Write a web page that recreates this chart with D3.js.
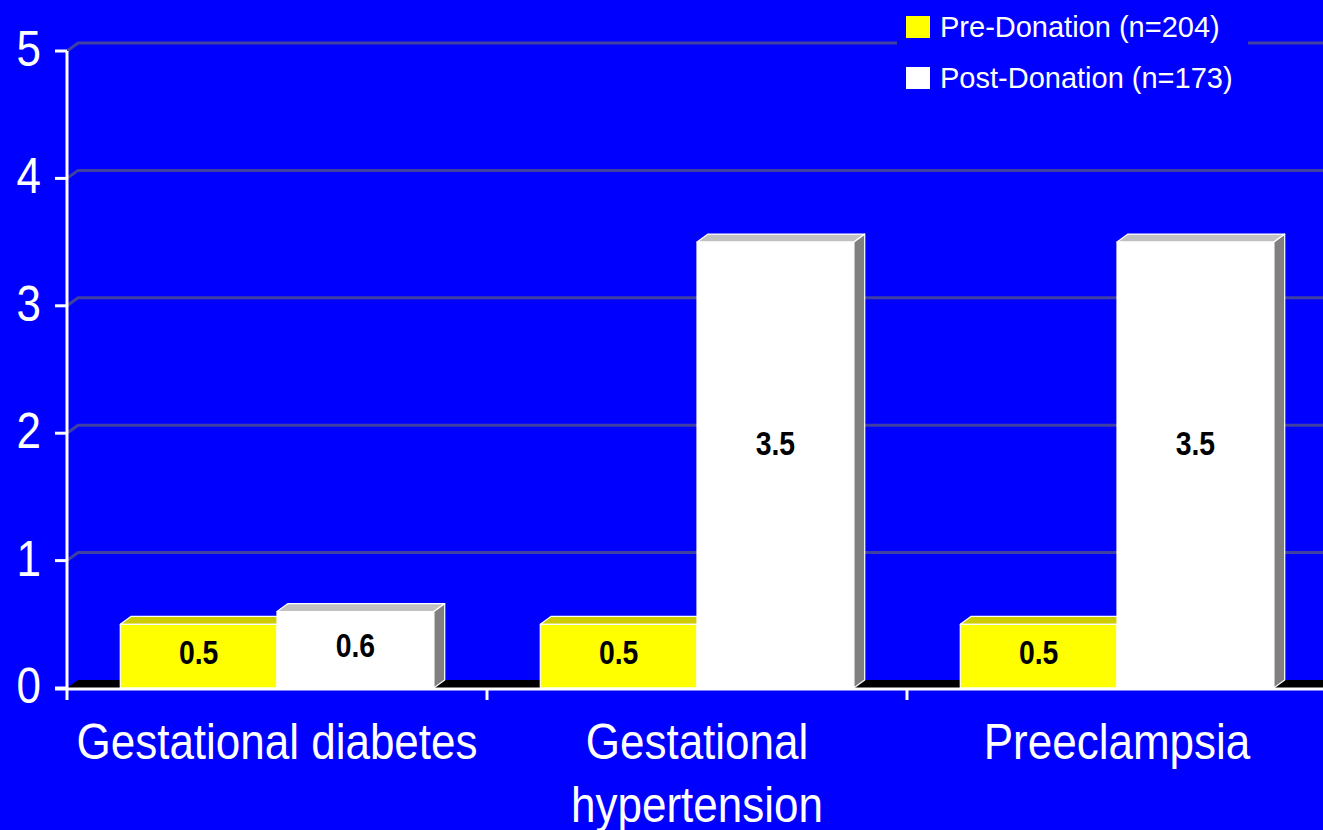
<!DOCTYPE html>
<html>
<head>
<meta charset="utf-8">
<script src="https://cdn.jsdelivr.net/npm/d3@7"></script>
<style>
  body { margin: 0; background: #0000ff; }
  svg { display: block; font-family: "Liberation Sans", Arial, sans-serif; }
</style>
</head>
<body>
<div id="chart"></div>
<script>
const categories = [["Gestational diabetes"], ["Gestational", "hypertension"], ["Preeclampsia"]];
const series = ["Pre-Donation (n=204)", "Post-Donation (n=173)"];
const preValues = [0.5, 0.5, 0.5];
const postValues = [0.6, 3.5, 3.5];
const yTicks = [0, 1, 2, 3, 4, 5];

const W = 1323, H = 830;
const depth = {x: 11, y: -8};
const colors = [
  {front: "#ffff00", top: "#cccc00", side: "#999900"},
  {front: "#ffffff", top: "#c0c0c0", side: "#808080"}
];

const svg = d3.select("#chart").append("svg")
    .attr("width", W)
    .attr("height", H);

svg.append("rect").attr("width", W).attr("height", H).attr("fill", "#0000ff");

const x0 = d3.scaleBand()
    .domain(d3.range(categories.length))
    .range([67, 67 + 420 * 3]);
const x1 = d3.scaleBand()
    .domain(d3.range(series.length))
    .range([0, x0.bandwidth()])
    .paddingOuter(0.34);
const y = d3.scaleLinear().domain([0, 5]).range([688, 51]);

// gridlines on the back wall
svg.append("g")
  .selectAll("path")
  .data(yTicks.filter(d => d > 0))
  .join("path")
    .attr("d", d => `M67,${y(d)} L${67 + depth.x},${y(d) + depth.y} L${W + 5},${y(d) + depth.y}`)
    .attr("fill", "none")
    .attr("stroke", "#4040a0")
    .attr("stroke-width", 3);

// floor
svg.append("path")
    .attr("d", `M67,${y(0)} L${67 + depth.x},${y(0) + depth.y} L${W + 5},${y(0) + depth.y} L${W + 5},${y(0)} Z`)
    .attr("fill", "#000000");

// bars
const rows = categories.map((c, i) => [preValues[i], postValues[i]]);
rows.forEach((vals, i) => {
  vals.forEach((v, s) => {
    const xl = x0(i) + x1(s), xr = xl + x1.bandwidth();
    const yt = y(v), yb = y(0);
    const g = svg.append("g").attr("stroke", "#ffffff").attr("stroke-width", 1.2).attr("stroke-linejoin", "round");
    g.append("path")
        .attr("d", `M${xr},${yb} L${xr + depth.x},${yb + depth.y} L${xr + depth.x},${yt + depth.y} L${xr},${yt} Z`)
        .attr("fill", colors[s].side);
    g.append("path")
        .attr("d", `M${xl},${yt} L${xl + depth.x},${yt + depth.y} L${xr + depth.x},${yt + depth.y} L${xr},${yt} Z`)
        .attr("fill", colors[s].top);
    g.append("rect")
        .attr("x", xl).attr("y", yt)
        .attr("width", xr - xl).attr("height", yb - yt)
        .attr("fill", colors[s].front);
    svg.append("text")
        .attr("transform", `translate(${(xl + xr) / 2},${y(v / 2) - 6 * v}) scale(0.86,1)`)
        .attr("text-anchor", "middle")
        .attr("dominant-baseline", "central")
        .style("font-size", "33px")
        .style("font-weight", "bold")
        .attr("fill", "#000000")
        .text(v);
  });
});

// axes
const axisColor = "#ffffff";
svg.append("line")
    .attr("x1", 67).attr("x2", 67).attr("y1", y(5)).attr("y2", y(0) + 12)
    .attr("stroke", axisColor).attr("stroke-width", 3);
svg.append("line")
    .attr("x1", 55).attr("x2", W + 5).attr("y1", y(0) + 1).attr("y2", y(0) + 1)
    .attr("stroke", axisColor).attr("stroke-width", 3);
svg.append("g")
  .selectAll("line")
  .data(yTicks)
  .join("line")
    .attr("x1", 55).attr("x2", 67)
    .attr("y1", d => y(d)).attr("y2", d => y(d))
    .attr("stroke", axisColor).attr("stroke-width", 3);
svg.append("g")
  .selectAll("line")
  .data(d3.range(1, categories.length))
  .join("line")
    .attr("x1", d => x0(d)).attr("x2", d => x0(d))
    .attr("y1", y(0)).attr("y2", y(0) + 12)
    .attr("stroke", axisColor).attr("stroke-width", 3);

svg.append("g")
  .selectAll("text")
  .data(yTicks)
  .join("text")
    .attr("transform", d => `translate(41,${y(d) + 15}) scale(0.88,1)`)
    .attr("text-anchor", "end")
    .style("font-size", "50px")
    .attr("fill", "#ffffff")
    .text(d => d);

// category labels
categories.forEach((lines, i) => {
  const t = svg.append("text")
      .attr("transform", `translate(${x0(i) + x0.bandwidth() / 2},759) scale(0.88,1)`)
      .attr("text-anchor", "middle")
      .style("font-size", "50px")
      .attr("fill", "#ffffff");
  lines.forEach((l, k) => {
    t.append("tspan").attr("x", 0).attr("y", k * 63).text(l);
  });
});

// legend
const legend = svg.append("g");
legend.append("rect")
    .attr("x", 897).attr("y", 0).attr("width", 351).attr("height", 100)
    .attr("fill", "#0000ff");
series.forEach((s, k) => {
  legend.append("rect")
      .attr("x", 906).attr("y", 16 + k * 51)
      .attr("width", 24).attr("height", 22)
      .attr("fill", colors[k].front);
  legend.append("text")
      .attr("x", 940).attr("y", 37 + k * 51)
      .style("font-size", "29px")
      .attr("fill", "#ffffff")
      .text(s);
});
</script>
</body>
</html>
